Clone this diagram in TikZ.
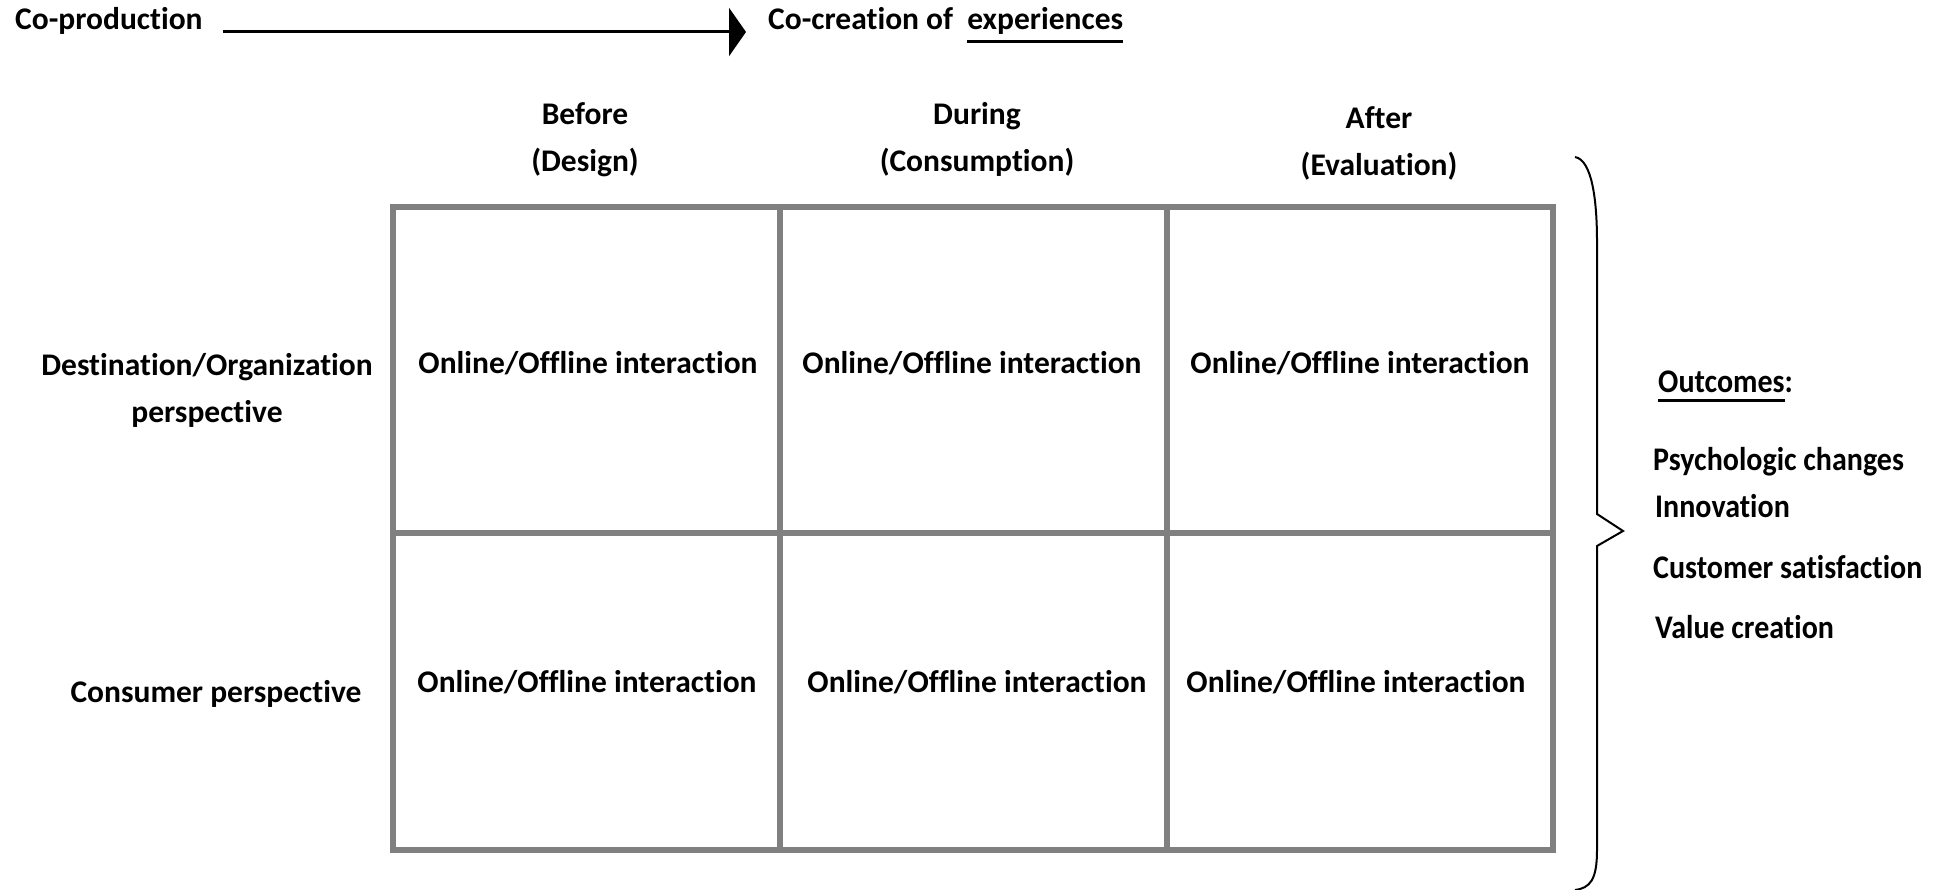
\documentclass[tikz,border=0pt]{standalone}
\usepackage{fontspec}
\setmainfont[Ligatures={NoCommon}]{Carlito}
\usetikzlibrary{arrows.meta}
\definecolor{gridgray}{RGB}{128,128,128}
% thick underline whose rule lies a fixed distance below the baseline
\newsavebox\ulbox
\newcommand\thickul[2][12pt]{\sbox\ulbox{#2}\rlap{\rule[-#1]{\wd\ulbox}{2.5pt}}\usebox\ulbox}
\newcommand\tallish[1]{\scalebox{1}[1.1]{#1}}
\begin{document}
\begin{tikzpicture}[x=1pt,y=-1pt,
  txt/.style={font=\bfseries\fontsize{31.5}{47}\selectfont, align=center, inner sep=0pt},
  outc/.style={font=\bfseries\fontsize{30}{36}\selectfont, anchor=base west, inner sep=0pt},
  gridline/.style={draw=gridgray, line width=6pt},
  flow/.style={draw=black, line width=3pt, -{Triangle[length=17pt,width=48pt]}},
  bracestroke/.style={draw=black, line width=2pt, line join=miter}]
\useasboundingbox (0,0) rectangle (1951,890);

% heading: from co-production to co-creation
\node[txt, anchor=base west] (prod) at (15,30) {Co-production};
\node[txt, anchor=base west] (cocr) at (768,30) {Co-creation of\ \ \thickul[13pt]{experiences}};
\draw[flow, shorten <=20pt, shorten >=22pt] ([yshift=-2pt]prod.base east) -- ([yshift=-2pt]prod.base east -| cocr.west);

% column headings
\node[txt] (before) at (585,140) {Before\\(Design)};
\node[txt] (during) at (977,139) {During\\(Consumption)};
\node[txt] (after)  at (1379,143) {After\\(Evaluation)};

% row headings
\node[txt] (orgrow)  at (207,390) {Destination/Organization\\perspective};
\node[txt] (consrow) at (216,694) {Consumer perspective};

% the 2 x 3 grid
\draw[gridline] (393,207) rectangle (1553,850);
\draw[gridline] (780,207) -- (780,850);
\draw[gridline] (1167,207) -- (1167,850);
\draw[gridline] (393,533) -- (1553,533);

% cells
\node[txt] (c11) at (588,363) {Online/Offline interaction};
\node[txt] (c12) at (972,363) {Online/Offline interaction};
\node[txt] (c13) at (1360,363) {Online/Offline interaction};
\node[txt] (c21) at (587,682) {Online/Offline interaction};
\node[txt] (c22) at (977,682) {Online/Offline interaction};
\node[txt] (c23) at (1356,682) {Online/Offline interaction};

% right brace
\draw[bracestroke] (1575,157) .. controls (1592,160) and (1597,200) .. (1597,242)
  -- (1597,514) -- (1623,531) -- (1597,546) -- (1597,850)
  .. controls (1597,880) and (1590,888) .. (1575,890);

% outcomes
\node[outc] (outhead) at (1658,392) {\tallish{\thickul[9pt]{Outcomes}:}};
\node[outc] (o1) at (1653,470) {\tallish{Psychologic changes}};
\node[outc] (o2) at (1655,517) {\tallish{Innovation}};
\node[outc] (o3) at (1653,578) {\tallish{Customer satisfaction}};
\node[outc] (o4) at (1655,638) {\tallish{Value creation}};
\end{tikzpicture}
\end{document}
